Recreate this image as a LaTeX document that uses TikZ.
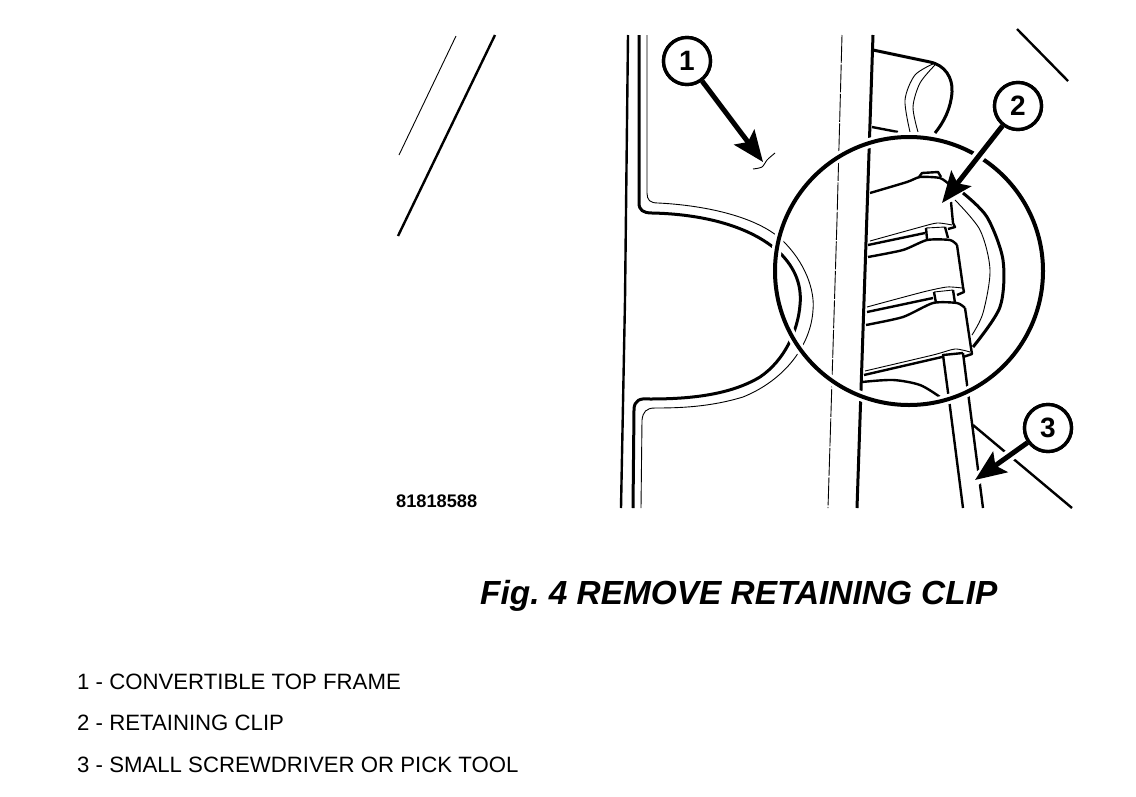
\documentclass[tikz,border=0pt]{standalone}
\usepackage{fontspec}
\setmainfont{Liberation Sans}
\usetikzlibrary{arrows.meta}
\usetikzlibrary{positioning}
\frenchspacing
\newcommand\mycallout[3]{%
  \node[mycallout] (#1) at (#2) {#3};
}
\newcommand\mylegend[3]{%
  \node[mylegend] (#1) at (77,#2) {#3};
}
\begin{document}
\begin{tikzpicture}[x=1pt, y=-1pt, >=latex,
heavy/.style={line width=3pt, line join=round},
medium/.style={line width=2.4pt, line join=round},
fine/.style={line width=0.9pt},
mycallout/.style={
  circle,
  draw,
  line width=3.4pt,
  fill=white,
  inner sep=0pt,
  minimum size=47pt,
  font=\fontsize{28}{28}\selectfont\bfseries},
leader/.style={
  line width=5pt,
  -{Stealth[length=31pt,width=25pt,inset=6pt]},
  preaction={draw=white,line width=12pt,-}},
mylegend/.style={anchor=base west, inner sep=0pt, font=\fontsize{22.2}{26}\selectfont},
zoomring/.style={circle, draw, line width=4pt, inner sep=0pt, minimum size=268pt,
  preaction={draw=white,line width=10pt}}
]
\useasboundingbox (0,0) rectangle (1136,796);

% left diagonals
\draw[medium] (495,35) -- (398,236);
\draw[fine] (456,36) -- (399,155);
% top right and lower right diagonals
\draw[medium] (1017,29) -- (1068,81);
\draw[medium] (973,425) -- (1072,508);

% frame outline
\draw[medium] (628,35) -- (625,300) -- (621,508);
\draw[heavy] (639,35) -- (639,203) .. controls (639,210) and (643,213) .. (652,213)
  .. controls (700,214) and (750,225) .. (780,253) .. controls (795,268) and (802,285) .. (800,305)
  .. controls (798,330) and (785,360) .. (760,377) .. controls (730,395) and (690,399) .. (650,399)
  .. controls (640,398) and (634,400) .. (634,410) -- (633,508);
\draw[fine] (647,35) -- (647,193) .. controls (647,200) and (650,203) .. (658,203)
  .. controls (700,205) and (755,215) .. (782,240) .. controls (805,262) and (815,290) .. (813,310)
  .. controls (811,345) and (785,380) .. (743,397) .. controls (710,407) and (680,408) .. (655,408)
  .. controls (646,408) and (643,412) .. (642,420) -- (641,508);
\draw[fine,dash pattern=on 28pt off 1.5pt] (842,35) -- (837,220) -- (828,508);
\draw[heavy] (873,35) -- (857,508);

% cylinder
\draw[heavy] (873,50) -- (930,62) .. controls (945,65) and (953,78) .. (952,92) .. controls (951,108) and (944,122) .. (935,133);
\draw[medium] (872,127) -- (898,132);
\draw[fine] plot[smooth] coordinates {(935,63) (915,75) (905,100) (910,132)};
\draw[fine] plot[smooth] coordinates {(935,65) (920,83) (913,107) (918,132)};

% arcs behind the clips
\draw[fine] plot[smooth] coordinates {(955,200) (980,230) (990,270) (983,313) (972,335)};
\draw[heavy] plot[smooth] coordinates {(963,193) (987,217) (1003,260) (1000,307) (973,347)};

% clip 1
\draw[medium] plot[smooth,tension=0.4] coordinates {(870,193) (907,182) (920,177) (940,178) (950,185)};
\draw[medium] (919,177) -- (922,173) -- (938,172) -- (941,177);
\draw[medium] (951,202) -- (953,223) -- (955,227) -- (948,229);
\draw[fine] plot[smooth,tension=0.4] coordinates {(952,225) (937,223) (917,228) (870,241)};
\draw[medium] (868,245) -- (925,233);
\draw[medium] (926,228) -- (927,239);
\draw[medium] (945,227) -- (948,238);
\draw[fine] (926,228) -- (945,227);
% clip 2
\draw[medium] plot[smooth,tension=0.4] coordinates {(868,257) (903,250) (927,240) (950,240) (957,245)};
\draw[medium] (957,245) -- (963,287) -- (964,292) -- (957,295);
\draw[fine] plot[smooth,tension=0.4] coordinates {(962,288) (947,287) (923,292) (867,307)};
\draw[medium] (867,312) -- (933,298);
\draw[medium] (934,292) -- (936,303);
\draw[medium] (953,290) -- (955,303);
\draw[fine] (934,292) -- (953,290);
% clip 3
\draw[medium] plot[smooth,tension=0.4] coordinates {(866,325) (903,317) (933,303) (957,303) (965,308)};
\draw[medium] (965,308) -- (971,348) -- (972,354) -- (963,357);
\draw[fine] plot[smooth,tension=0.4] coordinates {(970,352) (955,349) (933,355) (865,371)};
\draw[medium] (864,375) -- (942,357);
\draw[medium] plot[smooth,tension=0.5] coordinates {(862,382) (893,380) (920,385) (940,397)};

% screwdriver
\draw[medium] (963,353) -- (943,355) -- (950,407) -- (963,508);
\draw[medium] (963,353) -- (969,400) -- (983,508);

\node[zoomring] (ring) at (909,271) {};

% curl at tip of 1
\draw[fine] plot[smooth] coordinates {(753,169) (762,167) (767,160) (775,153)};

\mycallout{one}{687,61}{1}
\mycallout{two}{1018,106}{2}
\mycallout{three}{1048,428}{3}
\coordinate (frametip) at (763,162);
\coordinate (cliptip) at (942,203);
\coordinate (tooltip) at (975,480);
\draw[leader] (one) -- (frametip);
\draw[leader] (two) -- (cliptip);
\draw[leader] (three) -- (tooltip);
\mycallout{one}{687,61}{1}
\mycallout{two}{1018,106}{2}
\mycallout{three}{1048,428}{3}

\node[anchor=base west, inner sep=0pt, font=\fontsize{18.2}{20}\selectfont\bfseries] (partno) at (396,507) {81818588};
\node[anchor=base west, inner sep=0pt, font=\fontsize{33.4}{36}\selectfont\bfseries\itshape] (caption) at (480,604) {Fig. 4 REMOVE RETAINING CLIP};

\mylegend{lone}{689}{1 - CONVERTIBLE TOP FRAME}
\mylegend{ltwo}{730}{2 - RETAINING CLIP}
\mylegend{lthree}{772}{3 - SMALL SCREWDRIVER OR PICK TOOL}

\end{tikzpicture}
\end{document}
